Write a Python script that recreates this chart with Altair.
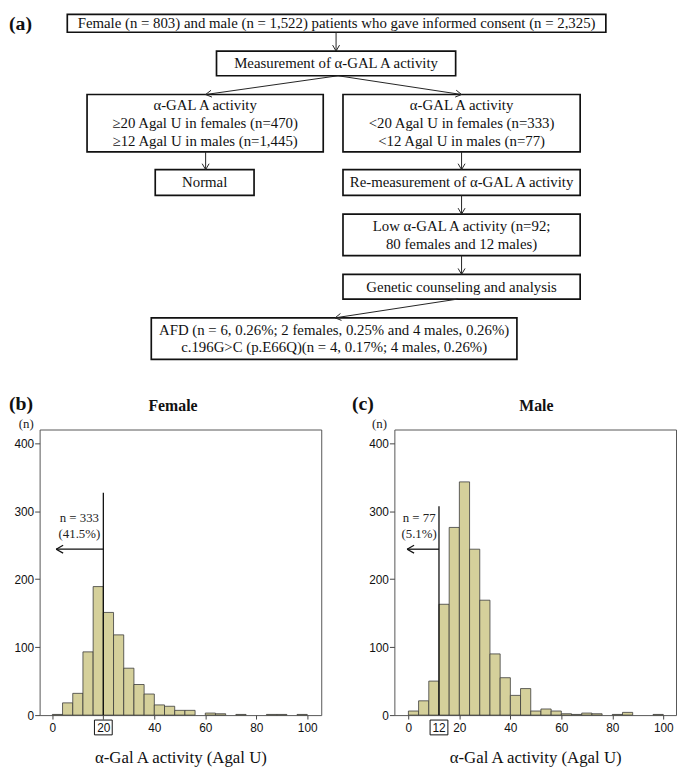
import altair as alt
import pandas as pd

# ---------------- histogram data (bin width 4 Agal U) ----------------
bin_start = list(range(0, 100, 4))
female_count = [1, 18, 32, 93, 189, 151, 118, 69, 45, 31, 15, 13, 7, 7, 0,
                3, 2, 0, 1, 0, 0, 1, 1, 0, 1]
male_count = [6, 21, 50, 163, 276, 343, 244, 169, 90, 55, 29, 39, 6, 9, 6,
              2, 1, 3, 2, 0, 1, 4, 0, 0, 1]
x_ticks = [0, 20, 40, 60, 80, 100]
y_ticks = [0, 100, 200, 300, 400]
female_cut, male_cut = 20, 12
female_note = ["n = 333", "(41.5%)"]
male_note = ["n = 77", "(5.1%)"]
x_title = "α-Gal A activity (Agal U)"

# ---------------- flowchart text ----------------
flow_lines = [
    ["Female (n = 803) and male (n = 1,522) patients who gave informed consent (n = 2,325)"],
    ["Measurement of α-GAL A activity"],
    ["α-GAL A activity", "≥20 Agal U in females (n=470)", "≥12 Agal U in males (n=1,445)"],
    ["α-GAL A activity", "<20 Agal U in females (n=333)", "<12 Agal U in males (n=77)"],
    ["Normal"],
    ["Re-measurement of α-GAL A activity"],
    ["Low α-GAL A activity (n=92;", "80 females and 12 males)"],
    ["Genetic counseling and analysis"],
    ["AFD (n = 6, 0.26%; 2 females, 0.25% and 4 males, 0.26%)",
     "c.196G>C (p.E66Q)(n = 4, 0.17%; 4 males, 0.26%)"],
]

# ---------------- layout (page pixels) ----------------
box_x1 = [67, 218, 87, 346, 156, 346, 346, 346, 152]
box_x2 = [612, 460, 326, 586, 256, 586, 586, 586, 522]
box_y1 = [8.9, 46, 90, 90, 166, 166, 211, 272, 316]
box_y2 = [27, 71, 148, 148, 192, 192, 253, 297, 358]
line_gap = 18
arrows = [  # (x_from, y_from, x_to, y_to)
    (339, 27, 339, 46), (341, 71, 207, 90), (341, 71, 466, 90),
    (207, 148, 207, 166), (466, 148, 466, 166), (466, 192, 466, 211),
    (466, 253, 466, 272), (462, 297, 338, 316),
]
PW, PH = 285, 289
PLOT_L, PLOT_T = 39, 429
XD_F = [-5, 105.5]
XD_M = [-5.5, 105]
YD = [0, 420]

SERIF = "Liberation Serif"
SANS = "Liberation Sans"
KHAKI = "#d5d09b"

FX = alt.Scale(domain=[PLOT_L, PLOT_L + PW], nice=False, zero=False)
FY = alt.Scale(domain=[PLOT_T, PLOT_T + PH], nice=False, zero=False, reverse=True)


def fx(f):
    return alt.X(f, type="quantitative", scale=FX, axis=None)


def fy(f):
    return alt.Y(f, type="quantitative", scale=FY, axis=None)


def chevron(x0, y0, x1, y1, L, W):
    dx, dy = x1 - x0, y1 - y0
    d = (dx * dx + dy * dy) ** 0.5
    ux, uy = dx / d, dy / d
    px, py = -uy, ux
    bx, by = x1 - ux * L, y1 - uy * L
    return [(x1, y1, bx + px * W, by + py * W), (x1, y1, bx - px * W, by - py * W)]


# ---- flowchart layers ----
boxes = pd.DataFrame(dict(x1=box_x1, x2=box_x2, y1=box_y1, y2=box_y2))
rows = []
for i, lines in enumerate(flow_lines):
    cx = (box_x1[i] + box_x2[i]) / 2
    cy = (box_y1[i] + box_y2[i]) / 2
    n = len(lines)
    for j, t in enumerate(lines):
        rows.append(dict(x=cx, y=cy + (j - (n - 1) / 2) * line_gap, t=t))
flow_text = pd.DataFrame(rows)

segs = []
for a in arrows:
    segs.append(a)
    segs += chevron(*a, L=6, W=3.5)
seg_df = pd.DataFrame(segs, columns=["xa", "ya", "xb", "yb"])

flow_rect = alt.Chart(boxes).mark_rect(fill="white", stroke="#111", strokeWidth=1.7).encode(
    x=fx("x1"), x2="x2:Q", y=fy("y1"), y2="y2:Q")
flow_seg = alt.Chart(seg_df).mark_rule(color="#222", strokeWidth=1).encode(
    x=fx("xa"), y=fy("ya"), x2="xb:Q", y2="yb:Q")
flow_txt = alt.Chart(flow_text).mark_text(font=SERIF, fontSize=15, color="#111",
                                          baseline="middle", align="center").encode(
    x=fx("x"), y=fy("y"), text="t:N")

panel_labels = pd.DataFrame(dict(x=[8, 8, 355], y=[8.5, 393, 393], t=["(a)", "(b)", "(c)"]))
lab_txt = alt.Chart(panel_labels).mark_text(font=SERIF, fontSize=20, fontWeight="bold",
                                            baseline="top", align="left", color="#111").encode(
    x=fx("x"), y=fy("y"), text="t:N")
titles = pd.DataFrame(dict(x=[174, 541.7], y=[405, 405], t=["Female", "Male"]))
title_txt = alt.Chart(titles).mark_text(font=SERIF, fontSize=16, fontWeight="bold",
                                        baseline="middle", align="center", color="#111").encode(
    x=fx("x"), y=fy("y"), text="t:N")
nlab = pd.DataFrame(dict(x=[25.5, 383], y=[423, 423], t=["(n)", "(n)"]))
n_txt = alt.Chart(nlab).mark_text(font=SERIF, fontSize=13, baseline="middle",
                                  align="center", color="#222").encode(
    x=fx("x"), y=fy("y"), text="t:N")

flow_layer = alt.layer(flow_rect, flow_seg, flow_txt, lab_txt, title_txt, n_txt)


# ---- histogram layers ----
def hist(counts, xdom, cut, cut_top, note, note_x, tip_x, label_box, extra_label=None):
    XS = alt.Scale(domain=xdom, nice=False, zero=False)
    YS = alt.Scale(domain=YD, nice=False, zero=False)
    ux = PW / (xdom[1] - xdom[0])
    uy = PH / (YD[1] - YD[0])
    df = pd.DataFrame(dict(x0=bin_start, x1=[b + 4 for b in bin_start], n=counts))
    df = df[df.n > 0]
    bars = alt.Chart(df).mark_rect(fill=KHAKI, stroke="#3a3a3a", strokeWidth=0.8).encode(
        x=alt.X("x0:Q", scale=XS, axis=alt.Axis(
            values=x_ticks, labelFont=SANS, labelFontSize=12, labelColor="#111",
            tickColor="#444", tickSize=4, labelPadding=4, domain=False, grid=False,
            labelFlush=False, title=x_title, titleFont=SERIF, titleFontSize=17,
            titleFontWeight="normal", titleColor="#111", titlePadding=16)),
        x2="x1:Q",
        y=alt.Y("n:Q", scale=YS, axis=alt.Axis(
            values=y_ticks, labelFont=SANS, labelFontSize=12, labelColor="#111",
            tickColor="#444", tickSize=5, labelPadding=1, domain=False, grid=False,
            labelFlush=False, title=None)),
        y2=alt.datum(0),
    )
    ay = 244
    segs = [(cut, 0, cut, cut_top), (cut, ay, tip_x, ay),
            (tip_x, ay, tip_x + 7 / ux, ay + 4 / uy), (tip_x, ay, tip_x + 7 / ux, ay - 4 / uy)]
    sdf = pd.DataFrame(segs, columns=["xa", "ya", "xb", "yb"])
    lines = alt.Chart(sdf).mark_rule(color="#111", strokeWidth=1.3).encode(
        x=alt.X("xa:Q", scale=XS), y=alt.Y("ya:Q", scale=YS), x2="xb:Q", y2="yb:Q")
    ndf = pd.DataFrame(dict(x=[note_x, note_x], y=[290, 266], t=note))
    notes = alt.Chart(ndf).mark_text(font=SERIF, fontSize=13, color="#222",
                                     baseline="middle", align="center").encode(
        x=alt.X("x:Q", scale=XS), y=alt.Y("y:Q", scale=YS), text="t:N")
    bdf = pd.DataFrame(dict(xa=[label_box - 9 / ux], xb=[label_box + 9 / ux]))
    box = alt.Chart(bdf).mark_rect(fill=None, stroke="#111", strokeWidth=1).encode(
        x=alt.X("xa:Q", scale=XS), x2="xb:Q", y=alt.value(294), y2=alt.value(309))
    layers = [bars, lines, notes, box]
    if extra_label is not None:
        edf = pd.DataFrame(dict(x=[extra_label], t=[str(extra_label)]))
        layers.append(alt.Chart(edf).mark_text(font=SANS, fontSize=12, color="#111",
                                               baseline="top", align="center").encode(
            x=alt.X("x:Q", scale=XS), y=alt.value(297), text="t:N"))
    return alt.layer(*layers)


female_hist = hist(female_count, XD_F, female_cut, 327, female_note, 10.6, 1.5, female_cut)
male_hist = hist(male_count, XD_M, male_cut, 307, male_note, 4.2, -0.5, male_cut, extra_label=male_cut)

female = alt.layer(female_hist, flow_layer).resolve_scale(
    x="independent", y="independent").properties(width=PW, height=PH)
male = male_hist.properties(width=PW, height=PH)

chart = alt.hconcat(female, male, spacing=398 - (PLOT_L + PW), bounds="flush").properties(
    padding=0
).configure_view(stroke="#555", strokeWidth=1)

chart.save("out.html", embed_options={"renderer": "svg", "actions": False})
